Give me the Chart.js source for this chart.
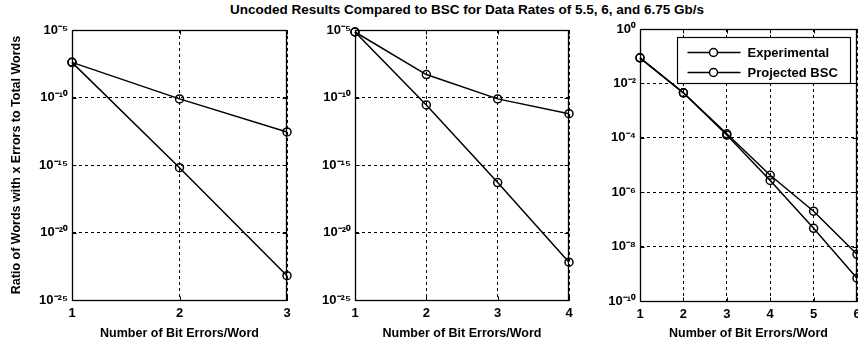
<!DOCTYPE html>
<html>
<head>
<meta charset="utf-8">
<script src="https://cdn.jsdelivr.net/npm/chart.js@4.4.0/dist/chart.umd.min.js"></script>
<style>
  body { margin: 0; background: #fff; width: 858px; height: 347px; position: relative; overflow: hidden; }
  canvas { position: absolute; top: 0; }
  #title {
    position: absolute; top: 2px; left: 467px; transform: translateX(-50%);
    white-space: nowrap; font: bold 13.5px "Liberation Sans", Arial, sans-serif; color: #000;
  }
</style>
</head>
<body>
<div id="title">Uncoded Results Compared to BSC for Data Rates of 5.5, 6, and 6.75 Gb/s</div>
<canvas id="chart1" width="300" height="347" style="left:0px"></canvas>
<canvas id="chart2" width="290" height="347" style="left:290px"></canvas>
<canvas id="chart3" width="288" height="347" style="left:570px"></canvas>
<script>
// data
const seriesNames = ["Experimental", "Projected BSC"];

// 5.5 Gb/s
const bitErrors1 = [1, 2, 3];
const experimental1 = [4.0e-8, 7.9e-11, 2.8e-13];
const projected1 = [4.0e-8, 6.3e-16, 6.3e-24];

// 6 Gb/s
const bitErrors2 = [1, 2, 3, 4];
const experimental2 = [7.1e-6, 5.0e-9, 7.9e-11, 6.3e-12];
const projected2 = [7.1e-6, 2.8e-11, 5.0e-17, 6.3e-23];

// 6.75 Gb/s
const bitErrors3 = [1, 2, 3, 4, 5, 6];
const experimental3 = [8.7e-2, 4.5e-3, 1.4e-4, 4.2e-6, 2.0e-7, 5.2e-9];
const projected3 = [8.7e-2, 4.5e-3, 1.26e-4, 2.7e-6, 4.7e-8, 6.9e-10];

// tick labels
const yTicksA = [1e-25, 1e-20, 1e-15, 1e-10, 1e-5];
const yTickLabelsA = ["10⁻²⁵", "10⁻²⁰", "10⁻¹⁵", "10⁻¹⁰", "10⁻⁵"];
const yTicksB = [1e-10, 1e-8, 1e-6, 1e-4, 1e-2, 1];
const yTickLabelsB = ["10⁻¹⁰", "10⁻⁸", "10⁻⁶", "10⁻⁴", "10⁻²", "10⁰"];

const xTitle = "Number of Bit Errors/Word";
const yTitle = "Ratio of Words with x Errors to Total Words";

const FONT = '"Liberation Sans", Arial, sans-serif';

// box round the plot plus small inward ticks, like matlab
const framePlugin = {
    id: "frame",
    afterDatasetsDraw(chart) {
        const {ctx, chartArea: a, scales} = chart;
        const l = Math.round(a.left) + 0.5, r = Math.round(a.right) - 0.5;
        const t = Math.round(a.top) + 0.5, b = Math.round(a.bottom) + 0.5;
        ctx.save();
        ctx.strokeStyle = "#000";
        ctx.lineWidth = 1.3;
        ctx.setLineDash([]);
        ctx.strokeRect(l, t, r - l, b - t);
        ctx.lineWidth = 1;
        ctx.beginPath();
        scales.x.ticks.forEach(tk => {
            const px = Math.round(scales.x.getPixelForValue(tk.value)) + 0.5;
            ctx.moveTo(px, b); ctx.lineTo(px, b - 4);
            ctx.moveTo(px, t); ctx.lineTo(px, t + 4);
        });
        scales.y.ticks.forEach(tk => {
            const py = Math.round(scales.y.getPixelForValue(tk.value)) + 0.5;
            ctx.moveTo(l, py); ctx.lineTo(l + 4, py);
            ctx.moveTo(r, py); ctx.lineTo(r - 4, py);
        });
        ctx.stroke();
        ctx.restore();
    }
};

// legend box inside the third plot
const boxLegendPlugin = {
    id: "boxLegend",
    afterDraw(chart) {
        const opts = chart.options.plugins.boxLegend;
        if (!opts || !opts.show) return;
        const {ctx, chartArea: a} = chart;
        const w = 173, h = 46;
        const x0 = Math.round(a.right) - 7 - w + 0.5, y0 = Math.round(a.top) + 8.5;
        ctx.save();
        ctx.fillStyle = "#fff";
        ctx.fillRect(x0, y0, w, h);
        ctx.strokeStyle = "#000";
        ctx.lineWidth = 1.2;
        ctx.strokeRect(x0, y0, w, h);
        ctx.font = "bold 13px " + FONT;
        ctx.textBaseline = "middle";
        ctx.fillStyle = "#000";
        chart.data.datasets.forEach((ds, i) => {
            const y = y0 + 15 + i * 20;
            ctx.lineWidth = 1.5;
            ctx.beginPath();
            ctx.moveTo(x0 + 10, y); ctx.lineTo(x0 + 63, y);
            ctx.stroke();
            ctx.beginPath();
            ctx.arc(x0 + 36, y, 4, 0, Math.PI * 2);
            ctx.fillStyle = "#fff";
            ctx.fill();
            ctx.stroke();
            ctx.fillStyle = "#000";
            ctx.fillText(ds.label, x0 + 70, y + 1);
        });
        ctx.restore();
    }
};

function makeChart(id, xs, exp, proj, yTicks, yLabels, o) {
    const ctx = document.getElementById(id).getContext("2d");
    const line = (vals, label) => ({
        label: label,
        data: xs.map((x, i) => ({x: x, y: vals[i]})),
        borderColor: "#000",
        borderWidth: 1.5,
        pointRadius: 4,
        pointBorderWidth: 1.5,
        pointBorderColor: "#000",
        pointBackgroundColor: "rgba(0,0,0,0)",
        pointStyle: "circle",
        tension: 0,
        fill: false
    });
    return new Chart(ctx, {
        type: "line",
        data: {
            datasets: [line(exp, seriesNames[0]), line(proj, seriesNames[1])]
        },
        options: {
            responsive: false,
            animation: false,
            clip: false,
            layout: {autoPadding: false, padding: {left: 0, right: o.padRight, top: o.top, bottom: 0}},
            plugins: {
                legend: {display: false},
                tooltip: {enabled: false},
                boxLegend: {show: !!o.legend}
            },
            scales: {
                x: {
                    type: "linear",
                    min: xs[0],
                    max: xs[xs.length - 1],
                    afterBuildTicks: s => { s.ticks = xs.map(v => ({value: v})); },
                    afterFit: s => { s.height = o.xHeight; s.paddingLeft = 0; s.paddingRight = 0; },
                    ticks: {
                        color: "#000",
                        padding: 6,
                        maxRotation: 0,
                        font: {family: FONT, size: 13, weight: "bold"},
                        callback: v => String(v)
                    },
                    grid: {color: "#000", lineWidth: 1, drawTicks: false},
                    border: {display: true, color: "#000", width: 1, dash: [3, 3]},
                    title: {
                        display: true,
                        text: xTitle,
                        color: "#000",
                        font: {family: FONT, size: 12.5, weight: "bold"},
                        padding: {top: 0, bottom: 6}
                    }
                },
                y: {
                    type: "logarithmic",
                    min: yTicks[0],
                    max: yTicks[yTicks.length - 1],
                    afterBuildTicks: s => { s.ticks = yTicks.map(v => ({value: v})); },
                    afterFit: s => { s.width = o.yWidth; s.paddingTop = 0; s.paddingBottom = 0; },
                    ticks: {
                        color: "#000",
                        padding: 4,
                        font: {family: FONT, size: 13, weight: "bold"},
                        callback: (v, i) => yLabels[i]
                    },
                    grid: {color: "#000", lineWidth: 1, drawTicks: false},
                    border: {display: true, color: "#000", width: 1, dash: [3, 3]},
                    title: {
                        display: !!o.yTitle,
                        text: yTitle,
                        color: "#000",
                        font: {family: FONT, size: 12.5, weight: "bold"},
                        padding: {top: 9, bottom: 0}
                    }
                }
            }
        },
        plugins: [framePlugin, boxLegendPlugin]
    });
}

makeChart("chart1", bitErrors1, experimental1, projected1, yTicksA, yTickLabelsA,
    {yWidth: 72, padRight: 13, top: 30, xHeight: 47, yTitle: true});
makeChart("chart2", bitErrors2, experimental2, projected2, yTicksA, yTickLabelsA,
    {yWidth: 65, padRight: 11, top: 30, xHeight: 47});
makeChart("chart3", bitErrors3, experimental3, projected3, yTicksB, yTickLabelsB,
    {yWidth: 70, padRight: 1, top: 29, xHeight: 46, legend: true});
</script>
</body>
</html>
